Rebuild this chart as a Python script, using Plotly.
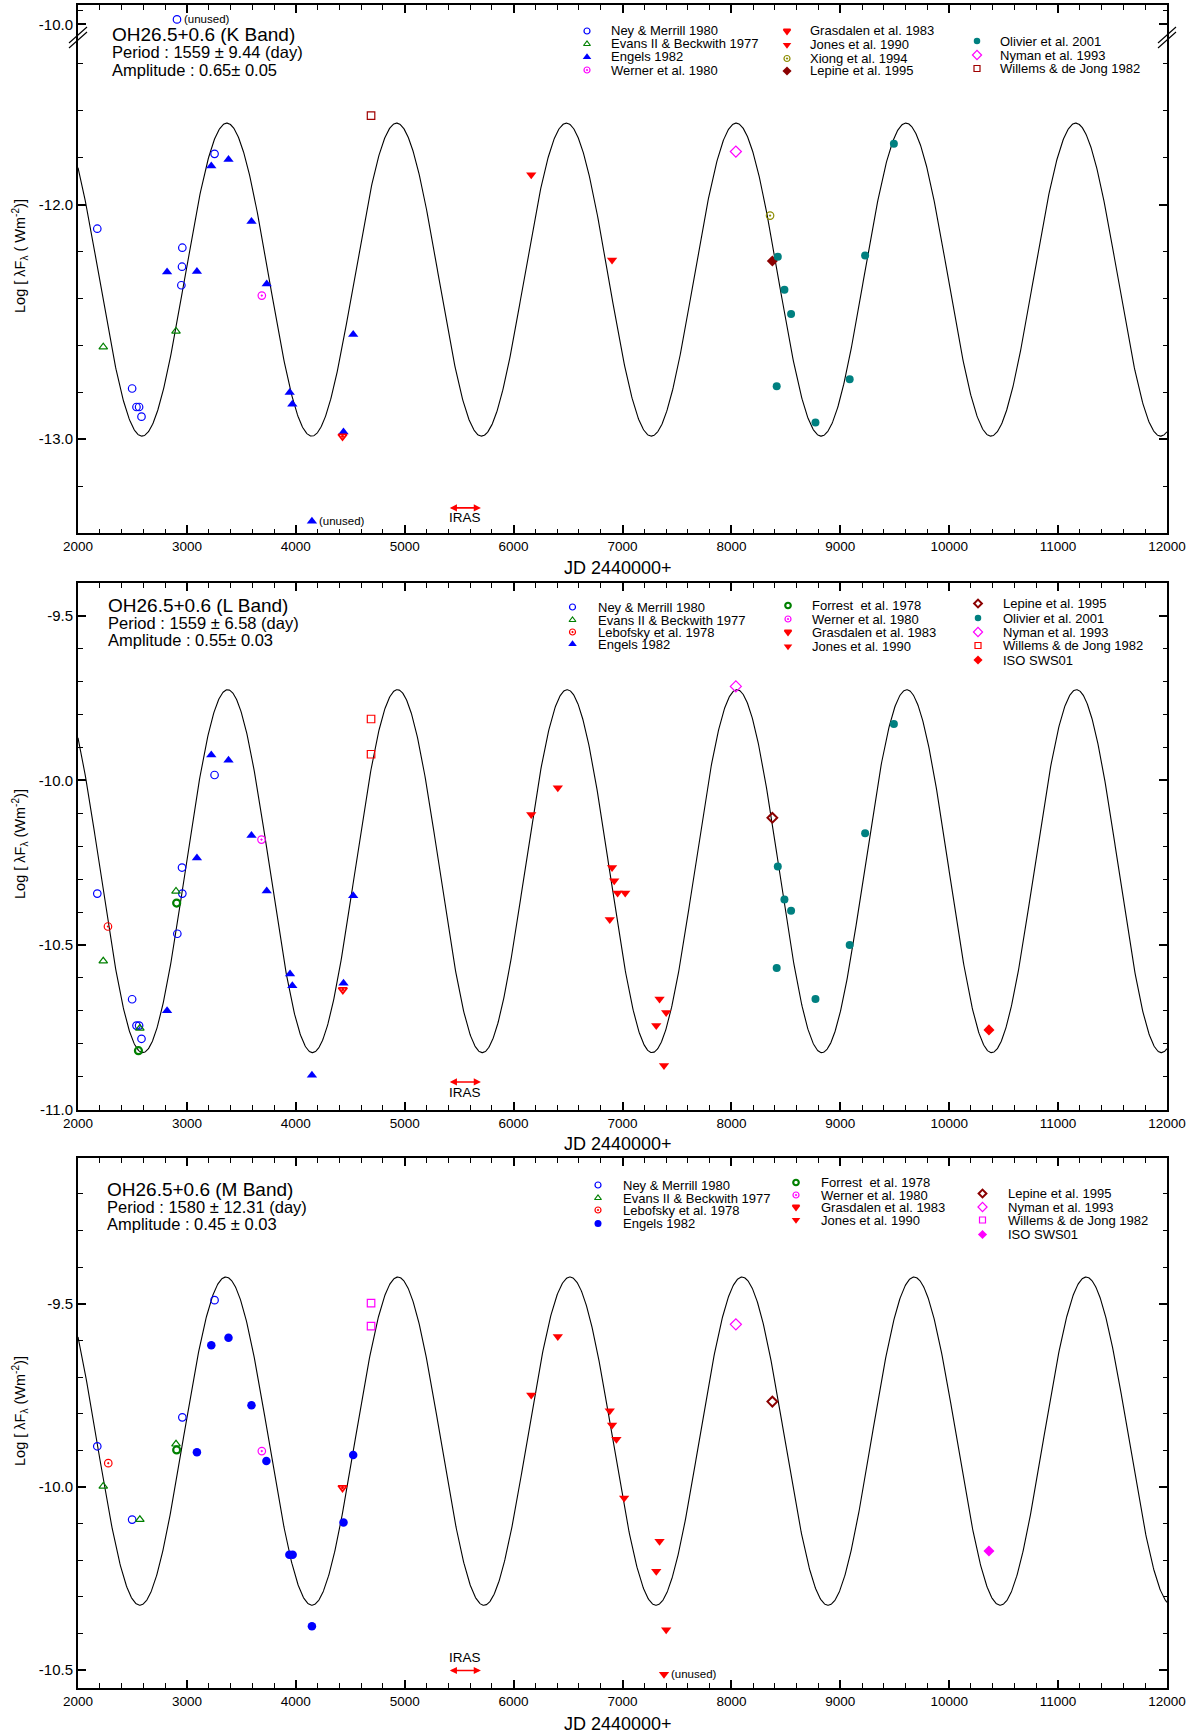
import numpy as np
import plotly.graph_objects as go

W, H = 1198, 1733
FONT = "Liberation Sans, Arial, Helvetica, sans-serif"

# ------------------------------------------------------------------ data
# K band
K_ney_x = [2177, 2497, 2537, 2561, 2583, 2958, 2955, 2949, 3254]
K_ney_y = [-12.103, -12.784, -12.863, -12.863, -12.904, -12.184, -12.265, -12.344, -11.784]
K_ney_unused_x = [2909]
K_ney_unused_y = [-9.93]
K_evans_x = [2232, 2900]
K_evans_y = [-12.607, -12.540]
K_engels_x = [2818, 3092, 3224, 3382, 3593, 3733, 3944, 3968, 4438, 4527]
K_engels_y = [-12.288, -12.285, -11.836, -11.808, -12.072, -12.339, -12.801, -12.851, -12.970, -12.554]
K_engels_unused_x = [4148]
K_engels_unused_y = [-13.35]
K_werner_x = [3688]
K_werner_y = [-12.388]
K_grasdalen_x = [4429]
K_grasdalen_y = [-12.988]
K_jones_x = [6162, 6904]
K_jones_y = [-11.873, -12.236]
K_xiong_x = [8355]
K_xiong_y = [-12.047]
K_lepine_x = [8376]
K_lepine_y = [-12.241]
K_olivier_x = [8416, 8426, 8487, 8548, 8772, 9086, 9228, 9492]
K_olivier_y = [-12.774, -12.222, -12.363, -12.467, -12.929, -12.745, -12.217, -11.741]
K_nyman_x = [8041]
K_nyman_y = [-11.774]
K_willems_x = [4691]
K_willems_y = [-11.621]

# L band
L_ney_x = [2177, 2497, 2537, 2561, 2583, 2912, 2955, 2958, 3254]
L_ney_y = [-10.344, -10.665, -10.745, -10.745, -10.785, -10.466, -10.265, -10.344, -9.984]
L_evans_x = [2232, 2568, 2900]
L_evans_y = [-10.549, -10.753, -10.337]
L_lebofsky_x = [2275]
L_lebofsky_y = [-10.444]
L_forrest_x = [2555, 2906]
L_forrest_y = [-10.821, -10.373]
L_engels_x = [2818, 3092, 3224, 3382, 3593, 3733, 3947, 3968, 4148, 4438, 4527]
L_engels_y = [-10.700, -10.236, -9.923, -9.939, -10.168, -10.336, -10.588, -10.624, -10.896, -10.616, -10.351]
L_werner_x = [3685]
L_werner_y = [-10.180]
L_grasdalen_x = [4432]
L_grasdalen_y = [-10.636]
L_willems_x = [4691, 4691]
L_willems_y = [-9.814, -9.921]
L_jones_x = [6162, 6406, 6883, 6904, 6924, 6955, 7025, 7310, 7340, 7381, 7401]
L_jones_y = [-10.104, -10.023, -10.423, -10.265, -10.305, -10.342, -10.342, -10.745, -10.664, -10.866, -10.705]
L_lepine_x = [8376]
L_lepine_y = [-10.114]
L_olivier_x = [8416, 8426, 8487, 8548, 8772, 9086, 9228, 9492]
L_olivier_y = [-10.570, -10.262, -10.362, -10.396, -10.664, -10.500, -10.161, -9.829]
L_nyman_x = [8041]
L_nyman_y = [-9.715]
L_iso_x = [10365]
L_iso_y = [-10.758]

# M band
M_ney_x = [2177, 2497, 2958, 3254]
M_ney_y = [-9.889, -10.089, -9.810, -9.490]
M_evans_x = [2232, 2568, 2900]
M_evans_y = [-9.998, -10.089, -9.883]
M_lebofsky_x = [2278]
M_lebofsky_y = [-9.935]
M_forrest_x = [2906]
M_forrest_y = [-9.899]
M_engels_x = [3092, 3224, 3382, 3593, 3730, 3941, 3971, 4148, 4438, 4527]
M_engels_y = [-9.905, -9.613, -9.593, -9.777, -9.929, -10.185, -10.185, -10.380, -10.097, -9.913]
M_werner_x = [3688]
M_werner_y = [-9.902]
M_grasdalen_x = [4429]
M_grasdalen_y = [-10.002]
M_willems_x = [4691, 4691]
M_willems_y = [-9.498, -9.561]
M_jones_x = [6162, 6406, 6883, 6904, 6944, 7015, 7310, 7340, 7401]
M_jones_y = [-9.749, -9.589, -9.792, -9.831, -9.870, -10.030, -10.230, -10.148, -10.390]
M_jones_unused_x = [7381]
M_jones_unused_y = [-10.511]
M_lepine_x = [8376]
M_lepine_y = [-9.767]
M_nyman_x = [8041]
M_nyman_y = [-9.556]
M_iso_x = [10365]
M_iso_y = [-10.175]

# fitted light-curve models (period, semi-amplitude, mean level, epoch of maximum)
K_model = dict(period=1559, amp=0.667, mean=-12.32, tmax=3367)
L_model = dict(period=1559, amp=0.551, mean=-10.276, tmax=3374)
M_model = dict(period=1580, amp=0.448, mean=-9.875, tmax=3358)

IRAS_range = [5400, 5700]

# tick label text: plotly's unicode minus replaced by a plain hyphen
Y_LABEL_ALIAS = {"\u221213.0": "-13.0", "\u221212.0": "-12.0", "\u221210.0": "-10.0", "\u221211.0": "-11.0",
                 "\u221210.5": "-10.5", "\u22129.5": "-9.5"}

# ------------------------------------------------------------------ styles
BLUE = "#0000FF"; GREEN = "#008000"; RED = "#FF0000"; MAGENTA = "#FF00FF"
OLIVE = "#8C8C00"; DARKRED = "#8B0000"; TEAL = "#008080"; BROWNRED = "#A00000"


def mk(symbol, color, size=7, lw=1.2):
    return dict(symbol=symbol, color=color, size=size, line=dict(color=color, width=lw))


ST = {
    "ney": mk("circle-open", BLUE, 7.5, 1.2),
    "evans": mk("triangle-up-open", GREEN, 7.5, 1.2),
    "engels_t": mk("triangle-up", BLUE, 9, 0),
    "engels_c": mk("circle", BLUE, 8.5, 0),
    "werner": mk("circle-open-dot", MAGENTA, 7.5, 1.2),
    "grasdalen": mk("triangle-down-open-dot", RED, 7.5, 1.8),
    "jones": mk("triangle-down", RED, 9, 0),
    "xiong": mk("circle-open-dot", OLIVE, 7.5, 1.2),
    "lepine_f": mk("diamond", DARKRED, 8.5, 0),
    "lepine_o": mk("diamond-open", DARKRED, 7.5, 2.0),
    "olivier": mk("circle", TEAL, 8, 0),
    "nyman": mk("diamond-open", MAGENTA, 8.5, 1.2),
    "willems_k": mk("square-open", BROWNRED, 7.5, 1.2),
    "willems_l": mk("square-open", RED, 7.5, 1.2),
    "willems_m": mk("square-open", MAGENTA, 7.5, 1.2),
    "lebofsky": mk("circle-open-dot", RED, 7.5, 1.2),
    "forrest": mk("circle-open", GREEN, 7, 2.2),
    "iso_l": mk("diamond", RED, 8.5, 0),
    "iso_m": mk("diamond", MAGENTA, 8.5, 0),
}

# ------------------------------------------------------------------ geometry (pixels)
XL, XR = 78, 1167
P1_TOP, P1_BREAK, P1_BOT = 5.4, 37.5, 533
P2_TOP, P2_BOT = 583, 1109.6
P3_TOP, P3_BOT = 1158, 1687.7


def px(x):
    return x / W


def py(y):
    return 1 - y / H


fig = go.Figure()

panels = {
    "K": [("", K_ney_x, K_ney_y, "ney"), ("2", K_ney_unused_x, K_ney_unused_y, "ney"),
          ("", K_evans_x, K_evans_y, "evans"), ("", K_engels_x, K_engels_y, "engels_t"),
          ("", K_engels_unused_x, K_engels_unused_y, "engels_t"),
          ("", K_werner_x, K_werner_y, "werner"), ("", K_grasdalen_x, K_grasdalen_y, "grasdalen"),
          ("", K_jones_x, K_jones_y, "jones"), ("", K_xiong_x, K_xiong_y, "xiong"),
          ("", K_lepine_x, K_lepine_y, "lepine_f"), ("", K_olivier_x, K_olivier_y, "olivier"),
          ("", K_nyman_x, K_nyman_y, "nyman"), ("", K_willems_x, K_willems_y, "willems_k")],
    "L": [("3", L_ney_x, L_ney_y, "ney"), ("3", L_evans_x, L_evans_y, "evans"),
          ("3", L_lebofsky_x, L_lebofsky_y, "lebofsky"), ("3", L_forrest_x, L_forrest_y, "forrest"),
          ("3", L_engels_x, L_engels_y, "engels_t"), ("3", L_werner_x, L_werner_y, "werner"),
          ("3", L_grasdalen_x, L_grasdalen_y, "grasdalen"), ("3", L_willems_x, L_willems_y, "willems_l"),
          ("3", L_jones_x, L_jones_y, "jones"), ("3", L_lepine_x, L_lepine_y, "lepine_o"),
          ("3", L_olivier_x, L_olivier_y, "olivier"), ("3", L_nyman_x, L_nyman_y, "nyman"),
          ("3", L_iso_x, L_iso_y, "iso_l")],
    "M": [("4", M_ney_x, M_ney_y, "ney"), ("4", M_evans_x, M_evans_y, "evans"),
          ("4", M_lebofsky_x, M_lebofsky_y, "lebofsky"), ("4", M_forrest_x, M_forrest_y, "forrest"),
          ("4", M_engels_x, M_engels_y, "engels_c"), ("4", M_werner_x, M_werner_y, "werner"),
          ("4", M_grasdalen_x, M_grasdalen_y, "grasdalen"), ("4", M_willems_x, M_willems_y, "willems_m"),
          ("4", M_jones_x, M_jones_y, "jones"), ("4", M_jones_unused_x, M_jones_unused_y, "jones"),
          ("4", M_lepine_x, M_lepine_y, "lepine_o"), ("4", M_nyman_x, M_nyman_y, "nyman"),
          ("4", M_iso_x, M_iso_y, "iso_m")],
}
curve_axes = {"K": "", "L": "3", "M": "4"}
models = {"K": K_model, "L": L_model, "M": M_model}

tt = np.linspace(2000, 12000, 2001)
for band, suf in curve_axes.items():
    m = models[band]
    yy = m["mean"] + m["amp"] * np.cos(2 * np.pi * (tt - m["tmax"]) / m["period"])
    fig.add_trace(go.Scatter(x=tt, y=yy, mode="lines", line=dict(color="black", width=1.1),
                             xaxis="x" + suf, yaxis="y" + suf, showlegend=False, hoverinfo="skip"))

for band, lst in panels.items():
    for suf, xs, ys, st in lst:
        fig.add_trace(go.Scatter(x=xs, y=ys, mode="markers", marker=ST[st],
                                 xaxis="x" + suf, yaxis="y" + suf, showlegend=False, cliponaxis=False))

# ------------------------------------------------------------------ hand-drawn legends
legends = [
    (587, 609, [31, 44, 57, 70], [("Ney & Merrill 1980", "ney"), ("Evans II & Beckwith 1977", "evans"),
                                  ("Engels 1982", "engels_t"), ("Werner et al. 1980", "werner")]),
    (787, 808, [31, 45, 58.5, 71], [("Grasdalen et al. 1983", "grasdalen"), ("Jones et al. 1990", "jones"),
                                    ("Xiong et al. 1994", "xiong"), ("Lepine et al. 1995", "lepine_f")]),
    (977, 998, [41, 55, 68.5], [("Olivier et al. 2001", "olivier"), ("Nyman et al. 1993", "nyman"),
                                ("Willems & de Jong 1982", "willems_k")]),
    (572.5, 596, [607, 620, 632, 644], [("Ney & Merrill 1980", "ney"), ("Evans II & Beckwith 1977", "evans"),
                                        ("Lebofsky et al. 1978", "lebofsky"), ("Engels 1982", "engels_t")]),
    (788, 810, [605.5, 619, 632, 646.5], [("Forrest  et al. 1978", "forrest"), ("Werner et al. 1980", "werner"),
                                          ("Grasdalen et al. 1983", "grasdalen"), ("Jones et al. 1990", "jones")]),
    (978, 1001, [603.5, 618, 632, 645.5, 660], [("Lepine et al. 1995", "lepine_o"), ("Olivier et al. 2001", "olivier"),
                                                ("Nyman et al. 1993", "nyman"), ("Willems & de Jong 1982", "willems_l"),
                                                ("ISO SWS01", "iso_l")]),
    (598, 621, [1185, 1198, 1210, 1223.5], [("Ney & Merrill 1980", "ney"), ("Evans II & Beckwith 1977", "evans"),
                                            ("Lebofsky et al. 1978", "lebofsky"), ("Engels 1982", "engels_c")]),
    (796, 819, [1182.5, 1195, 1207, 1220], [("Forrest  et al. 1978", "forrest"), ("Werner et al. 1980", "werner"),
                                            ("Grasdalen et al. 1983", "grasdalen"), ("Jones et al. 1990", "jones")]),
    (982.5, 1006, [1193.5, 1207, 1220, 1234.5], [("Lepine et al. 1995", "lepine_o"), ("Nyman et al. 1993", "nyman"),
                                                 ("Willems & de Jong 1982", "willems_m"), ("ISO SWS01", "iso_m")]),
]

annotations = []
for mx, tx, rows, entries in legends:
    for ry, (label, st) in zip(rows, entries):
        lm = dict(ST[st])
        lm["size"] = max(5.5, lm["size"] - 1.5)
        fig.add_trace(go.Scatter(x=[mx], y=[ry], mode="markers", marker=lm, xaxis="x5", yaxis="y5",
                                 showlegend=False, hoverinfo="skip"))
        annotations.append(dict(x=px(tx), y=py(ry), xref="paper", yref="paper", text=label, showarrow=False,
                                xanchor="left", yanchor="middle", font=dict(family=FONT, size=13, color="black")))

# ------------------------------------------------------------------ titles
titles = [
    (110, [34.5, 52, 69.5], ["OH26.5+0.6 (K Band)", "Period : 1559 \u00b1 9.44 (day)", "Amplitude : 0.65\u00b1 0.05"]),
    (106, [605, 622.5, 639.5], ["OH26.5+0.6 (L Band)", "Period : 1559 \u00b1 6.58 (day)", "Amplitude : 0.55\u00b1 0.03"]),
    (105, [1189, 1206.5, 1223.5], ["OH26.5+0.6 (M Band)", "Period : 1580 \u00b1 12.31 (day)", "Amplitude : 0.45 \u00b1 0.03"]),
]
for tx, ys, texts in titles:
    for i, (yv, t) in enumerate(zip(ys, texts)):
        annotations.append(dict(x=px(tx), y=py(yv), xref="paper", yref="paper", text=t, showarrow=False,
                                xanchor="left", yanchor="middle",
                                font=dict(family=FONT, size=19 if i == 0 else 16.5, color="black")))

ylab_main = "Log [ \u03bbF<sub>\u03bb</sub> ( Wm<sup>-2</sup>)]"
ylab_other = "Log [ \u03bbF<sub>\u03bb</sub> (Wm<sup>-2</sup>)]"
for yc, t in [(256, ylab_main), (844, ylab_other), (1411, ylab_other)]:
    annotations.append(dict(x=px(20), y=py(yc), xref="paper", yref="paper", text=t, showarrow=False,
                            textangle=-90, xanchor="center", yanchor="middle",
                            font=dict(family=FONT, size=14.5, color="black")))

for yv in [568, 1143.5, 1724]:
    annotations.append(dict(x=px(618), y=py(yv), xref="paper", yref="paper", text="JD 2440000+",
                            showarrow=False, xanchor="center", yanchor="middle",
                            font=dict(family=FONT, size=18, color="black")))

for xr, yr, xv, yv in [("x2", "y2", K_ney_unused_x[0], K_ney_unused_y[0]),
                       ("x", "y", K_engels_unused_x[0], K_engels_unused_y[0]),
                       ("x4", "y4", M_jones_unused_x[0], M_jones_unused_y[0])]:
    annotations.append(dict(x=xv, y=yv, xref=xr, yref=yr, text="(unused)", showarrow=False,
                            xanchor="left", yanchor="middle", xshift=5,
                            font=dict(family=FONT, size=11.5, color="black")))

for xr, yr, ya, yl in [("x", "y", -13.293, -13.335), ("x3", "y3", -10.916, -10.947), ("x4", "y4", -10.501, -10.466)]:
    annotations.append(dict(x=IRAS_range[1], y=ya, ax=IRAS_range[0], ay=ya, xref=xr, yref=yr,
                            axref=xr, ayref=yr, text="", showarrow=True, arrowhead=2, arrowside="end+start",
                            arrowsize=0.9, arrowwidth=1.6, arrowcolor=RED))
    annotations.append(dict(x=sum(IRAS_range) / 2, y=yl, xref=xr, yref=yr, text="IRAS", showarrow=False,
                            xanchor="center", yanchor="middle", font=dict(family=FONT, size=13.5, color="black")))

# ------------------------------------------------------------------ axes
common = dict(showline=True, linewidth=2, linecolor="black", ticks="inside", ticklen=8, tickwidth=1.5,
              tickcolor="black", showgrid=False, zeroline=False, automargin=False,
              tickfont=dict(family=FONT, size=13.5, color="black"))
MINOR = dict(ticks="inside", ticklen=4.5, tickwidth=1.2, tickcolor="black", showgrid=False)

xd = [px(XL), px(XR)]


def xax(anchor, mirror, labels=True, side="bottom"):
    return dict(common, domain=xd, anchor=anchor, range=[2000, 12000], tickmode="linear", tick0=2000,
                dtick=1000, tickformat="d", minor=dict(MINOR, dtick=200), mirror=mirror,
                showticklabels=labels, side=side)


def yax(anchor, dom, rng, t0, dt, mdt, fmt=".1f"):
    d = dict(common, domain=dom, anchor=anchor, range=rng, tickmode="linear", tick0=t0, dtick=dt,
             tickformat=fmt, labelalias=Y_LABEL_ALIAS, minor=dict(MINOR, dtick=mdt), mirror="ticks")
    d["tickfont"] = dict(family=FONT, size=15, color="black")
    return d


layout_axes = dict(
    xaxis=xax("y", False),
    xaxis2=xax("y2", False, labels=False, side="top"),
    xaxis3=xax("y3", "ticks"),
    xaxis4=xax("y4", "ticks"),
    yaxis=yax("x", [py(P1_BOT), py(P1_BREAK)], [-13.40, -11.288], -13, 1, 0.2),
    yaxis2=yax("x2", [py(P1_BREAK), py(P1_TOP)], [-10.19, -9.728], -10, 1, 0.2),
    yaxis3=yax("x3", [py(P2_BOT), py(P2_TOP)], [-11.0, -9.401], -11, 0.5, 0.1),
    yaxis4=yax("x4", [py(P3_BOT), py(P3_TOP)], [-10.548, -9.102], -10.5, 0.5, 0.1),
    xaxis5=dict(domain=[0, 1], range=[0, W], visible=False, fixedrange=True, anchor="y5", automargin=False),
    yaxis5=dict(domain=[0, 1], range=[H, 0], visible=False, fixedrange=True, anchor="x5", automargin=False),
)

shapes = []
for bx in [XL, XR]:
    for off in [-2.5, 2.5]:
        shapes.append(dict(type="line", xref="paper", yref="paper",
                           x0=px(bx - 9), y0=py(P1_BREAK + 8 + off), x1=px(bx + 9), y1=py(P1_BREAK - 8 + off),
                           line=dict(color="black", width=1.2)))

fig.update_layout(width=W, height=H, margin=dict(l=0, r=0, t=0, b=0, pad=0, autoexpand=False),
                  paper_bgcolor="white", plot_bgcolor="rgba(0,0,0,0)", showlegend=False,
                  annotations=annotations, shapes=shapes,
                  font=dict(family=FONT, color="black"), **layout_axes)

# remove the default 8px page margin so the figure fills the window exactly; hide the toolbar
fig.write_html("out.html", config={"displayModeBar": False},
               post_script="document.body.style.margin='0px';document.body.style.overflow='hidden';")
